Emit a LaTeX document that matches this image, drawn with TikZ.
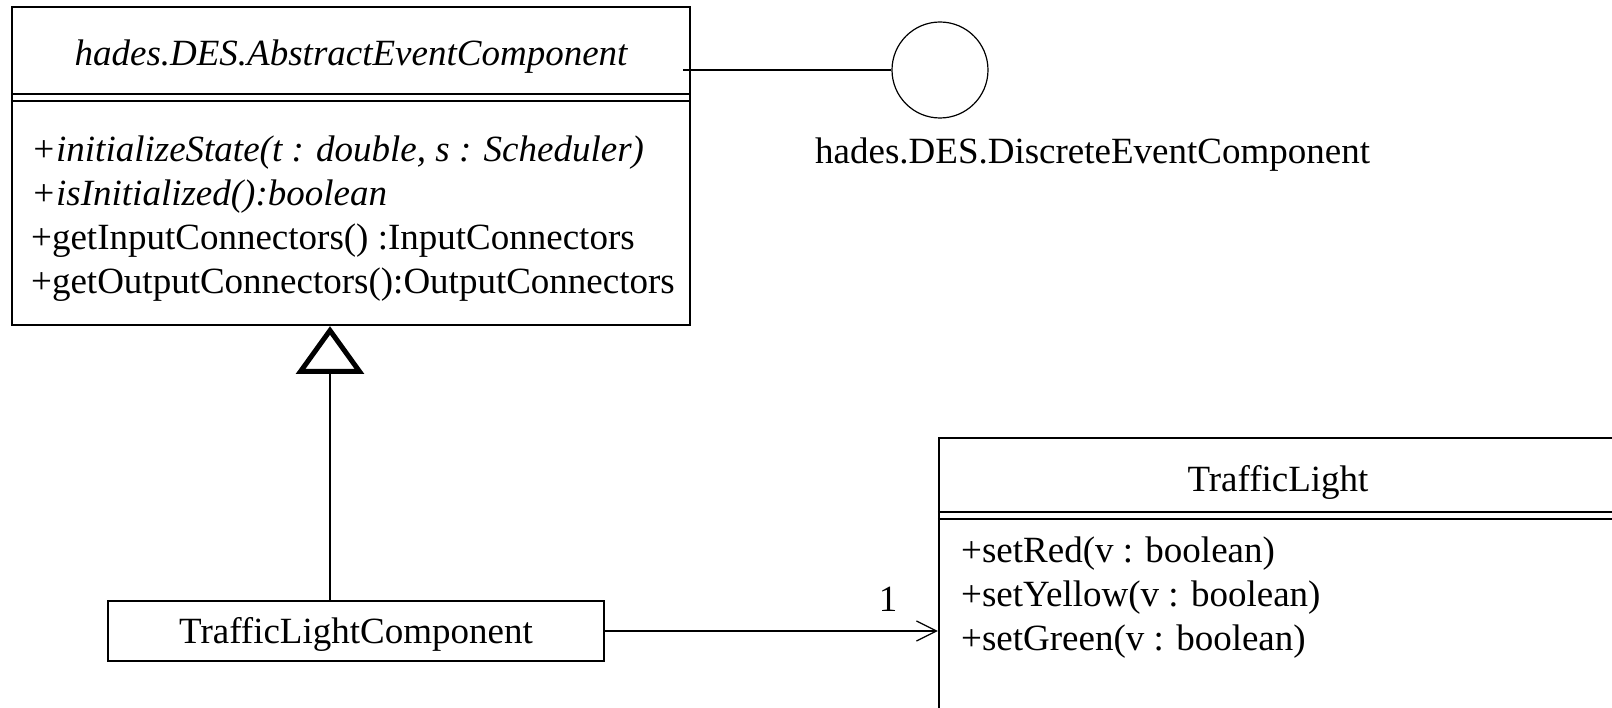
\documentclass[tikz,border=0pt]{standalone}
\usepackage{fontspec}
\setmainfont{Liberation Serif}
\usetikzlibrary{arrows.meta}
\begin{document}
\begin{tikzpicture}[x=1pt,y=-1pt,
  classbox/.style={draw=black, line width=2.4pt, inner sep=0pt, rectangle},
  plainbox/.style={draw=black, line width=1.2pt, inner sep=0pt, rectangle},
  txt/.style={inner sep=0pt, font=\fontsize{37}{44}\selectfont},
  sepline/.style={draw=black, line width=2pt},
  conn/.style={draw=black, line width=1.2pt},
  genhead/.style={draw=black, line width=5pt, line join=miter},
  navarrow/.style={conn, -{Straight Barb[length=20pt,width=20pt]}}]
\useasboundingbox (0,0) rectangle (1612,708);

% abstract class
\node[classbox, minimum width=678pt, minimum height=318pt] (aec) at (351,166) {};
\draw[sepline] (aec.west |- 0,94) -- (aec.east |- 0,94);
\draw[sepline] (aec.west |- 0,101) -- (aec.east |- 0,101);
\node[txt, anchor=base] (aect) at (351,66) {\itshape hades.DES.AbstractEventComponent};
\node[txt, anchor=base west] (m1) at (31,162) {\itshape +initializeState(t : double, s : Scheduler)};
\node[txt, anchor=base west] (m2) at (31,206) {\itshape +isInitialized():boolean};
\node[txt, anchor=base west] (m3) at (31,250) {+getInputConnectors() :InputConnectors};
\node[txt, anchor=base west] (m4) at (31,294) {+getOutputConnectors():OutputConnectors};

% interface lollipop
\node[draw=black, circle, line width=1.2pt, minimum size=96pt, inner sep=0pt] (iface) at (940,70) {};
\coordinate (lol) at (683,70);
\draw[conn] (lol) -- (iface);
\node[txt, anchor=base west] (ifl) at (815,164) {hades.DES.DiscreteEventComponent};

% generalization
\coordinate (triapex) at (330,330.5);
\coordinate (tribase) at (330,371.5);
\draw[genhead] (triapex) -- (300.5,371.5) -- (359.5,371.5) -- cycle;

% TrafficLightComponent
\node[plainbox, minimum width=496pt, minimum height=60pt] (tlc) at (356,631) {};
\node[txt, anchor=base] (tlct) at (356,643) {TrafficLightComponent};
\draw[conn] (tlc.north -| tribase) -- (tribase);

% TrafficLight class
\node[classbox, minimum width=678pt, minimum height=322pt] (tl) at (1278,599) {};
\draw[sepline] (tl.west |- 0,512) -- (tl.east |- 0,512);
\draw[sepline] (tl.west |- 0,519) -- (tl.east |- 0,519);
\node[txt, anchor=base] (tlt) at (1278,491) {TrafficLight};
\node[txt, anchor=base west] (t1) at (961,562) {+setRed(v : boolean)};
\node[txt, anchor=base west] (t2) at (961,606) {+setYellow(v : boolean)};
\node[txt, anchor=base west] (t3) at (961,650) {+setGreen(v : boolean)};

% association
\draw[navarrow] (tlc.east) -- (tlc.east -| tl.west);
\node[txt, anchor=base] (mult) at (888,611) {1};
\end{tikzpicture}
\end{document}
